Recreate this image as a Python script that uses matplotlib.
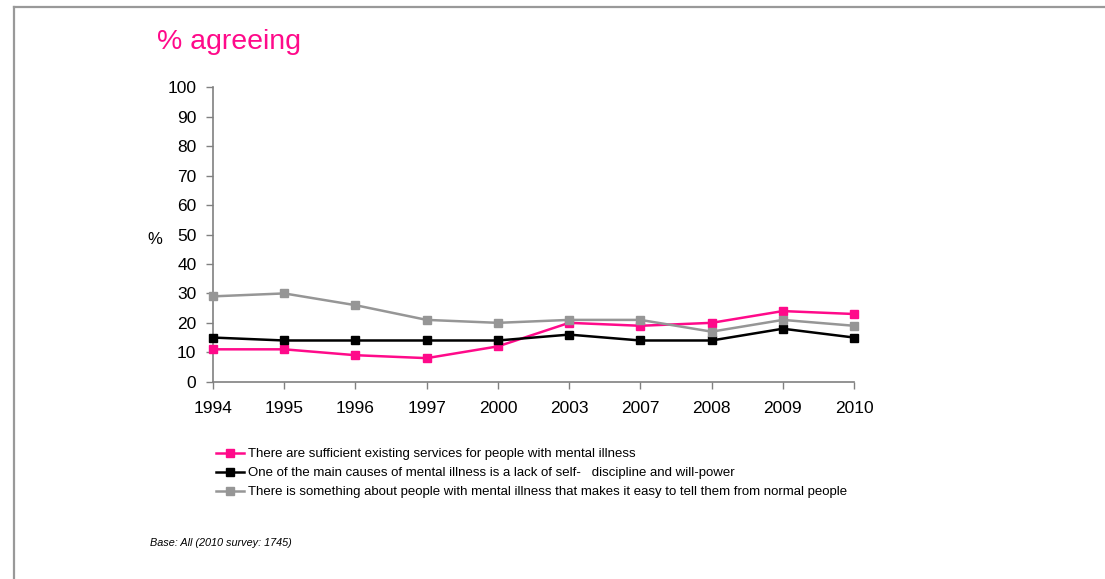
import matplotlib.pyplot as plt
from matplotlib.lines import Line2D

plt.rcParams['font.family'] = ['Liberation Sans', 'DejaVu Sans']

years = ['1994', '1995', '1996', '1997', '2000', '2003', '2007', '2008', '2009', '2010']
services = [11, 11, 9, 8, 12, 20, 19, 20, 24, 23]
self_discipline = [15, 14, 14, 14, 14, 16, 14, 14, 18, 15]
tell_apart = [29, 30, 26, 21, 20, 21, 21, 17, 21, 19]

labels = [
    'There are sufficient existing services for people with mental illness',
    'One of the main causes of mental illness is a lack of self-   discipline and will-power',
    'There is something about people with mental illness that makes it easy to tell them from normal people',
]
colors = ['#FF0A8A', '#000000', '#969696']

fig = plt.figure(figsize=(11.05, 5.79), dpi=100)
ax = fig.add_axes([0.1928, 0.3408, 0.5801, 0.5081])

x = list(range(len(years)))
handles = []
for vals, col, lab in zip([services, self_discipline, tell_apart], colors, labels):
    h, = ax.plot(x, vals, color=col, lw=1.8, marker='s', markersize=5.5,
                 markeredgecolor=col, label=lab, clip_on=False, zorder=3)
    handles.append(h)

ax.set_xlim(0, 9)
ax.set_ylim(0, 100)
ax.set_yticks(range(0, 101, 10))
ax.set_xticks(x)
ax.set_xticklabels(years)
ax.tick_params(axis='both', labelsize=12.5, length=5, width=1, color='#808080',
               direction='out')
ax.tick_params(axis='x', pad=9)
ax.tick_params(axis='y', pad=7)
for s in ['top', 'right']:
    ax.spines[s].set_visible(False)
for s in ['left', 'bottom']:
    ax.spines[s].set_color('#808080')
    ax.spines[s].set_linewidth(1.2)

fig.text(157 / 1105, 1 - 42 / 579, '% agreeing', color='#FF0A8A', fontsize=20.5,
         va='center', ha='left')
fig.text(155 / 1105, 1 - 240 / 579, '%', fontsize=12, va='center', ha='center')

fig.legend(handles, labels, loc='upper left', bbox_to_anchor=(216 / 1105, 1 - 448 / 579),
           frameon=False, fontsize=9.5, handlelength=2.1, handletextpad=0.3,
           labelspacing=0.52, borderaxespad=0, borderpad=0)

fig.text(150 / 1105, 1 - 543 / 579, 'Base: All (2010 survey: 1745)', fontsize=7.8,
         style='italic', va='center', ha='left')

# gray frame around the panel
fig.add_artist(Line2D([14 / 1105, 1], [1 - 7 / 579, 1 - 7 / 579],
                      transform=fig.transFigure, color='#999999', lw=1.6))
fig.add_artist(Line2D([14 / 1105, 14 / 1105], [0, 1 - 7 / 579],
                      transform=fig.transFigure, color='#999999', lw=1.6))

fig.savefig('out.png', dpi=100)
